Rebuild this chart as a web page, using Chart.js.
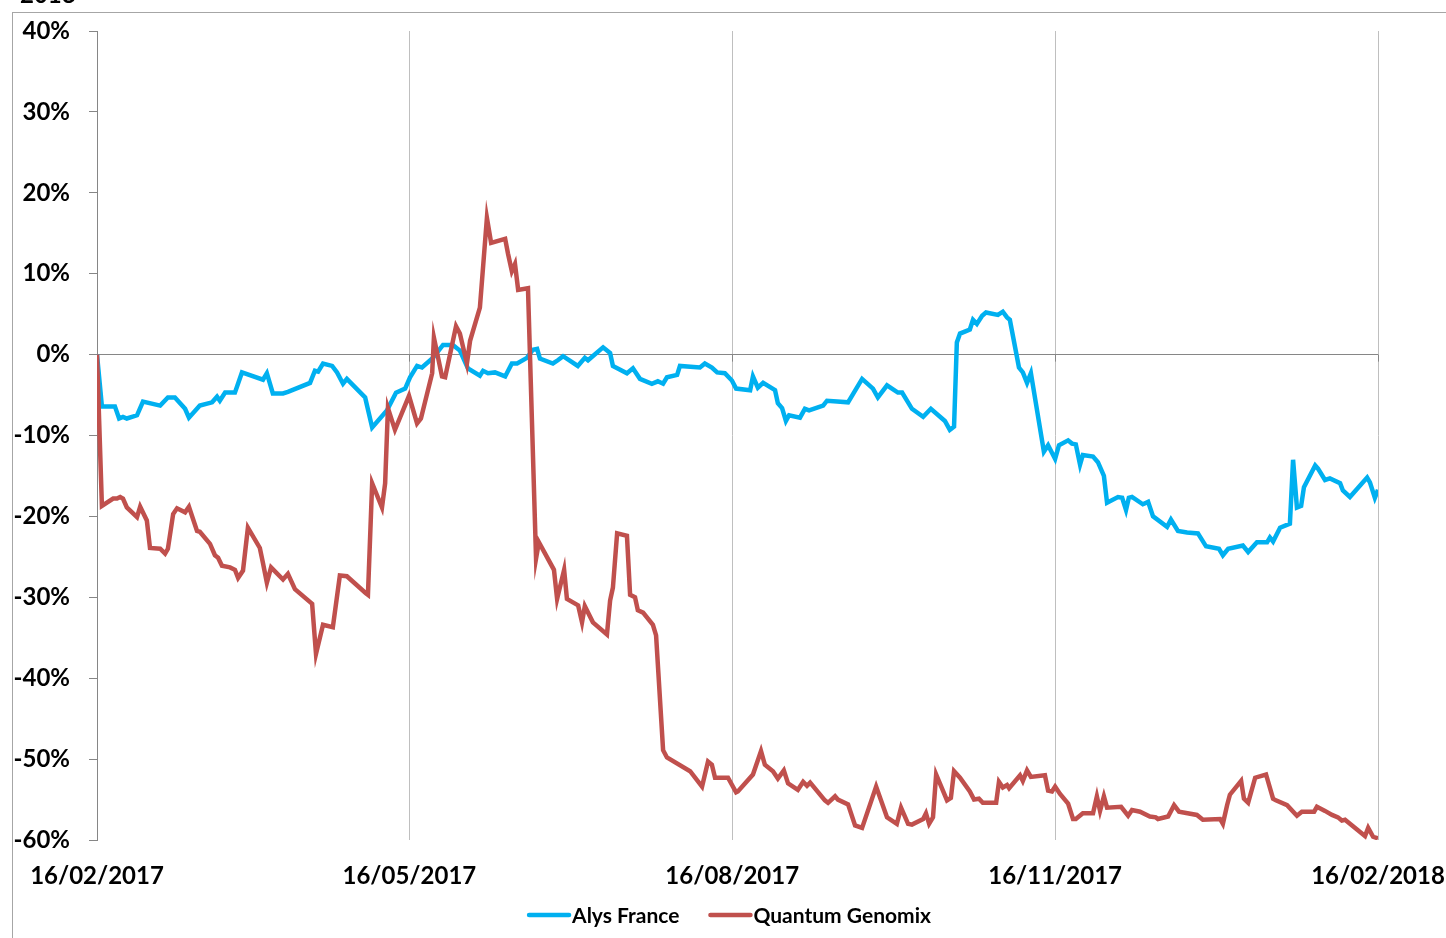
<!DOCTYPE html>
<html>
<head>
<meta charset="utf-8">
<script src="https://cdn.jsdelivr.net/npm/chart.js@4.4.1/dist/chart.umd.min.js"></script>
<style>
  html, body { margin: 0; padding: 0; background: #fff; }
  #wrap { width: 1446px; height: 938px; }
</style>
</head>
<body>
<div id="wrap"><canvas id="perfChart"></canvas></div>
<script>
// days since 16/02/2017
const tickDays = [0, 89, 181, 273, 365];
const tickLabels = ['16/02/2017', '16/05/2017', '16/08/2017', '16/11/2017', '16/02/2018'];

const alysDays = [
  0,1.4,5.1,6.3,7.4,8.5,11.4,13.1,18.0,20.2,
  22.2,25.1,26.2,29.3,32.8,34.2,35.0,36.5,39.3,41.3,
  47.3,48.4,50.1,53.0,54.4,60.7,62.1,63.0,64.4,67.0,
  68.4,70.1,71.2,76.4,78.4,82.6,85.2,87.8,89.2,91.2,
  92.6,95.7,98.6,101.4,103.4,105.7,109.1,110.0,111.4,113.4,
  116.3,118.2,119.7,122.5,124.2,125.4,126.2,129.9,131.3,132.8,
  137.0,139.0,139.9,144.2,146.2,147.0,151.0,152.7,154.7,158.1,
  159.8,161.3,162.4,165.3,166.1,171.8,173.2,175.2,176.7,178.9,
  180.9,182.1,186.1,186.9,188.3,189.8,193.2,194.0,195.2,196.3,
  197.2,200.3,201.7,202.9,206.9,208.0,210.9,214.0,218.0,221.1,
  222.5,225.1,228.2,229.4,232.2,235.4,237.6,241.6,243.0,244.2,
  245.0,245.9,248.7,249.6,250.7,252.2,253.3,256.7,258.1,259.3,
  260.1,262.7,263.8,265.0,266.1,269.8,271.0,273.0,274.1,276.7,
  277.8,278.9,280.1,280.9,283.8,285.2,286.9,287.8,290.9,292.1,
  293.2,294.0,294.9,298.0,299.5,300.9,304.9,306.0,308.0,310.6,
  313.7,316.0,319.7,320.8,322.3,326.5,328.0,330.5,333.4,334.2,
  335.1,337.1,339.9,340.8,341.9,343.1,343.9,347.1,347.9,349.9,
  351.3,354.2,355.0,357.0,361.9,362.7,364.1,365.0
];
const alysValues = [
  0,-6.4,-6.4,-7.9,-7.7,-7.9,-7.5,-5.8,-6.3,-5.3,
  -5.3,-6.7,-7.8,-6.3,-5.9,-5.2,-5.7,-4.7,-4.7,-2.2,
  -3.1,-2.3,-4.8,-4.8,-4.6,-3.5,-2.0,-2.1,-1.1,-1.4,
  -2.2,-3.6,-3.0,-5.3,-9.0,-6.9,-4.7,-4.2,-2.8,-1.4,
  -1.6,-0.4,1.2,1.2,0.5,-1.7,-2.6,-2.0,-2.3,-2.2,
  -2.7,-1.1,-1.1,-0.4,0.6,0.7,-0.5,-1.1,-0.7,-0.2,
  -1.4,-0.4,-0.7,0.9,0.2,-1.4,-2.3,-1.7,-3.0,-3.6,
  -3.3,-3.6,-2.8,-2.5,-1.4,-1.6,-1.1,-1.6,-2.2,-2.3,
  -3.2,-4.2,-4.4,-2.7,-4.1,-3.5,-4.4,-6.0,-6.6,-8.2,
  -7.5,-7.8,-6.7,-6.9,-6.3,-5.7,-5.8,-5.9,-3.0,-4.2,
  -5.3,-3.8,-4.7,-4.7,-6.7,-7.7,-6.7,-8.2,-9.3,-8.9,
  1.5,2.6,3.1,4.3,3.8,4.8,5.2,4.9,5.3,4.6,
  4.3,-1.6,-2.2,-3.5,-2.3,-12.0,-11.2,-12.9,-11.2,-10.6,
  -11.0,-11.1,-13.6,-12.4,-12.6,-13.3,-15.0,-18.3,-17.6,-17.7,
  -19.2,-17.7,-17.6,-18.5,-18.2,-20.0,-21.3,-20.4,-21.8,-22.0,
  -22.1,-23.7,-24.0,-24.8,-24.0,-23.6,-24.4,-23.2,-23.2,-22.6,
  -23.1,-21.4,-20.9,-13.0,-18.9,-18.7,-16.4,-13.7,-14.1,-15.5,
  -15.3,-15.9,-16.8,-17.6,-15.2,-15.8,-17.7,-16.7
];

const quantumDays = [
  0,1.4,4.6,5.7,6.6,7.4,8.5,11.4,12.3,14.2,
  15.1,18.0,19.4,20.2,21.7,22.8,25.1,26.2,28.5,29.3,
  32.2,33.6,34.5,35.6,37.9,39.3,40.2,41.6,43.0,46.4,
  47.3,48.4,49.6,53.0,54.4,56.4,61.3,62.4,64.4,67.2,
  69.2,71.2,76.6,77.2,78.4,81.2,82.1,82.9,84.9,88.9,
  91.2,92.3,95.5,96.0,98.3,99.2,102.3,103.4,105.4,106.3,
  109.1,111.1,112.3,116.3,117.1,118.2,119.1,120.0,122.8,125.1,
  125.9,130.2,131.1,133.1,133.9,137.1,138.2,139.0,141.3,145.3,
  146.2,147.0,148.2,151.0,151.9,153.3,154.1,155.6,158.4,159.3,
  161.3,162.4,169.0,172.4,174.1,175.2,176.1,179.8,182.1,182.6,
  186.9,189.2,190.3,192.6,194.0,195.7,196.9,199.7,201.2,202.3,
  203.2,207.4,208.3,210.3,211.1,214.0,216.0,218.0,222.0,225.1,
  227.9,229.1,231.1,232.2,235.4,236.2,237.1,238.2,239.1,242.2,
  243.3,244.2,245.9,248.7,249.9,251.3,252.4,256.2,257.0,258.1,
  259.3,259.9,263.0,263.8,265.0,266.1,270.1,271.0,272.1,273.0,
  274.4,276.7,278.1,278.9,280.9,283.8,284.9,285.8,286.9,287.8,
  291.8,293.8,294.9,297.2,300.0,301.7,302.3,305.2,306.9,308.3,
  313.4,315.1,320.0,320.8,322.0,322.8,326.0,326.8,328.0,330.0,
  333.1,335.1,335.9,339.1,341.9,343.3,346.8,347.6,349.9,351.9,
  353.6,354.7,355.6,361.3,362.2,363.6,365.0
];
const quantumValues = [
  0,-18.7,-17.8,-17.8,-17.6,-17.8,-18.9,-20.1,-18.8,-20.5,
  -23.9,-24.0,-24.6,-24.0,-19.7,-19.0,-19.5,-18.8,-21.8,-21.9,
  -23.4,-24.8,-25.1,-26.1,-26.3,-26.6,-27.6,-26.7,-21.4,-23.9,
  -25.8,-28.2,-26.3,-27.8,-27.1,-29.0,-30.8,-37.0,-33.4,-33.7,
  -27.3,-27.4,-29.5,-29.7,-15.9,-18.9,-15.9,-6.6,-9.3,-5.1,
  -8.5,-7.9,-2.3,2.1,-2.7,-2.8,3.5,2.6,-1.1,1.7,
  5.8,16.9,13.8,14.3,12.5,10.3,11.2,8.0,8.2,-25.2,
  -23.2,-26.6,-30.2,-26.6,-30.2,-31.0,-33.1,-31.1,-33.1,-34.6,
  -30.4,-28.8,-22.1,-22.4,-29.7,-30.0,-31.6,-31.9,-33.4,-34.7,
  -48.9,-49.8,-51.5,-53.4,-50.3,-50.7,-52.3,-52.3,-54.1,-54.0,
  -51.9,-49.0,-50.7,-51.5,-52.4,-51.4,-53.0,-53.8,-52.8,-53.3,
  -52.9,-55.1,-55.4,-54.6,-55.0,-55.6,-58.2,-58.5,-53.4,-57.2,
  -58.0,-56.0,-58.0,-58.1,-57.4,-56.7,-58.0,-57.2,-51.9,-55.1,
  -54.8,-51.5,-52.3,-54.0,-55.0,-54.9,-55.4,-55.4,-52.8,-53.5,
  -53.2,-53.6,-52.0,-52.7,-51.4,-52.2,-52.0,-53.9,-54.0,-53.4,
  -54.3,-55.5,-57.4,-57.4,-56.7,-56.7,-54.6,-56.4,-54.6,-56.0,
  -55.9,-57.0,-56.3,-56.5,-57.1,-57.2,-57.4,-57.1,-55.7,-56.5,
  -56.9,-57.5,-57.4,-58.0,-55.7,-54.4,-52.7,-54.9,-55.4,-52.3,
  -51.9,-54.9,-55.1,-55.7,-57.0,-56.5,-56.5,-55.9,-56.4,-56.9,
  -57.2,-57.6,-57.5,-59.5,-58.5,-59.6,-59.8
];

const toPoints = (days, vals) => days.map((d, i) => ({ x: d, y: vals[i] }));
const FONT = 'Lato, "Open Sans", sans-serif';

// frame, clipped title and little ticks on the 0 line
const framePlugin = {
  id: 'frame',
  beforeDraw(chart) {
    const ctx = chart.ctx;
    ctx.save();
    ctx.strokeStyle = '#A6A6A6';
    ctx.lineWidth = 1;
    ctx.strokeRect(12.5, 12.5, 1460, 960);
    ctx.fillStyle = '#000';
    ctx.font = 'bold 24px ' + FONT;
    ctx.textBaseline = 'alphabetic';
    ctx.fillText('2018', 20, 3);
    ctx.restore();
  },
  beforeDatasetsDraw(chart) {
    const ctx = chart.ctx;
    const x = chart.scales.x, y = chart.scales.y;
    const y0 = y.getPixelForValue(0);
    ctx.save();
    ctx.strokeStyle = '#868686';
    ctx.lineWidth = 1;
    tickDays.slice(1).forEach(d => {
      const px = Math.round(x.getPixelForValue(d)) + 0.5;
      ctx.beginPath();
      ctx.moveTo(px, y0);
      ctx.lineTo(px, y0 + 7);
      ctx.stroke();
    });
    ctx.restore();
  }
};

const legendPlugin = {
  id: 'bottomLegend',
  afterDraw(chart) {
    const ctx = chart.ctx;
    ctx.save();
    ctx.font = 'bold 21px ' + FONT;
    ctx.textBaseline = 'middle';
    const items = chart.data.datasets.map(ds => ({
      label: ds.label, color: ds.borderColor, w: ctx.measureText(ds.label).width
    }));
    const lineW = 40, gap = 3, space = 31;
    let total = 0;
    items.forEach((it, i) => { total += lineW + gap + it.w + (i ? space : 0); });
    let x = 730 - total / 2;
    const y = 915;
    items.forEach(it => {
      ctx.strokeStyle = it.color;
      ctx.lineWidth = 4.5;
      ctx.lineCap = 'round';
      ctx.beginPath();
      ctx.moveTo(x, y);
      ctx.lineTo(x + lineW, y);
      ctx.stroke();
      ctx.fillStyle = '#000';
      ctx.fillText(it.label, x + lineW + gap, y + 1);
      x += lineW + gap + it.w + space;
    });
    ctx.restore();
  }
};

const ctx = document.getElementById('perfChart').getContext('2d');
new Chart(ctx, {
  type: 'line',
  data: {
    datasets: [
      {
        label: 'Alys France',
        data: toPoints(alysDays, alysValues),
        borderColor: '#00B0F0',
        borderWidth: 4.5,
        pointRadius: 0,
        tension: 0,
        order: 2
      },
      {
        label: 'Quantum Genomix',
        data: toPoints(quantumDays, quantumValues),
        borderColor: '#C0504D',
        borderWidth: 4.5,
        pointRadius: 0,
        tension: 0,
        order: 1
      }
    ]
  },
  options: {
    responsive: true,
    maintainAspectRatio: false,
    animation: false,
    layout: { padding: { left: 0, right: 68, top: 31, bottom: 0 } },
    plugins: {
      legend: { display: false },
      tooltip: { enabled: false }
    },
    scales: {
      x: {
        type: 'linear',
        min: 0,
        max: 365,
        afterBuildTicks: s => { s.ticks = tickDays.map(v => ({ value: v })); },
        afterFit: s => { s.height = 98; s.paddingLeft = 0; s.paddingRight = 0; },
        border: { display: false },
        grid: {
          color: c => (c.index === 0 ? 'rgba(0,0,0,0)' : '#BFBFBF'),
          drawTicks: false
        },
        ticks: {
          autoSkip: false,
          maxRotation: 0,
          padding: 22,
          color: '#000',
          font: { family: FONT, weight: 'bold', size: 24 },
          callback: (v, i) => tickLabels[i]
        }
      },
      y: {
        min: -60,
        max: 40,
        afterFit: s => { s.width = 97; s.paddingTop = 0; s.paddingBottom = 0; },
        border: { display: true, color: '#868686' },
        grid: {
          color: c => (c.tick && c.tick.value === 0 ? '#868686' : 'rgba(0,0,0,0)'),
          tickColor: '#868686',
          tickLength: 8
        },
        ticks: {
          stepSize: 10,
          padding: 19,
          color: '#000',
          font: { family: FONT, weight: 'bold', size: 24 },
          callback: v => v + '%'
        }
      }
    }
  },
  plugins: [framePlugin, legendPlugin]
});
</script>
</body>
</html>
